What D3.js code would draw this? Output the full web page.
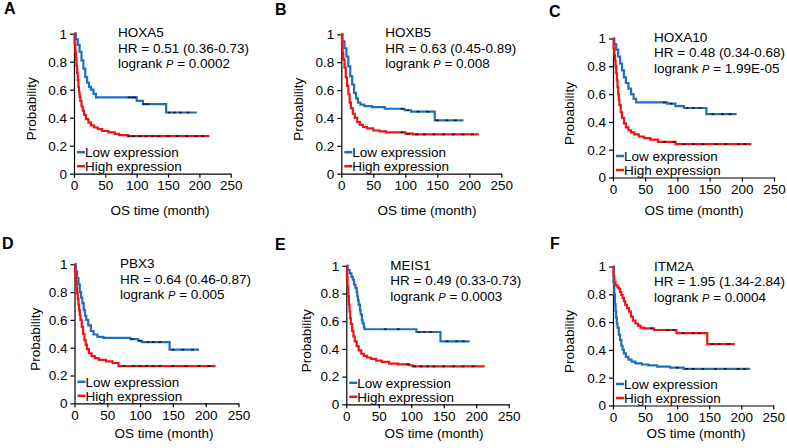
<!DOCTYPE html>
<html>
<head>
<meta charset="utf-8">
<script src="https://cdn.jsdelivr.net/npm/d3@7"></script>
<style>
  body { margin: 0; background: #fff; }
  svg text { font-family: "Liberation Sans", Arial, sans-serif; fill: #000; }
</style>
</head>
<body>
<svg id="drawing_region" width="787" height="448"></svg>
<script>
// panel letters, genes and statistics
const letters = ["A", "B", "C", "D", "E", "F"];
const genes = ["HOXA5", "HOXB5", "HOXA10", "PBX3", "MEIS1", "ITM2A"];
const hrLabels = ["HR = 0.51 (0.36-0.73)", "HR = 0.63 (0.45-0.89)", "HR = 0.48 (0.34-0.68)",
                  "HR = 0.64 (0.46-0.87)", "HR = 0.49 (0.33-0.73)", "HR = 1.95 (1.34-2.84)"];
const pValues = ["0.0002", "0.008", "1.99E-05", "0.005", "0.0003", "0.0004"];

const xTicks = [0, 50, 100, 150, 200, 250];
const yTicks = [0, 0.2, 0.4, 0.6, 0.8, 1];

// survival curves [month, probability]
const lowA = [[0,1],[3,0.96],[6,0.92],[9,0.87],[12,0.81],[15,0.75],[18,0.69],[21,0.65],[24,0.62],[27,0.60],[31,0.57],[35,0.545],[100,0.52],[110,0.497],[147,0.437],[196,0.437]];
const highA = [[0,1],[1,0.93],[2,0.87],[3,0.82],[4,0.77],[5,0.72],[6,0.67],[7,0.62],[8,0.58],[9,0.55],[10,0.52],[12,0.48],[14,0.45],[16,0.42],[19,0.39],[23,0.365],[27,0.345],[32,0.33],[38,0.318],[45,0.305],[55,0.295],[65,0.285],[72,0.275],[86,0.268],[216,0.268]];
const lowB = [[0,1],[2,0.95],[5,0.90],[8,0.84],[11,0.77],[14,0.70],[17,0.64],[20,0.58],[23,0.54],[26,0.51],[30,0.495],[36,0.485],[48,0.477],[68,0.466],[99,0.455],[109,0.445],[146,0.383],[191,0.383]];
const highB = [[0,1],[1,0.93],[2,0.87],[3,0.82],[5,0.76],[7,0.69],[9,0.63],[11,0.57],[13,0.51],[15,0.47],[18,0.43],[21,0.40],[25,0.37],[29,0.35],[34,0.335],[40,0.325],[50,0.31],[60,0.303],[70,0.297],[100,0.287],[112,0.282],[215,0.282]];
const lowC = [[0,1],[2,0.96],[5,0.92],[8,0.87],[11,0.82],[14,0.77],[17,0.72],[20,0.68],[24,0.64],[28,0.60],[32,0.565],[36,0.54],[84,0.531],[97,0.514],[110,0.50],[145,0.456],[192,0.456]];
const highC = [[0,1],[1,0.93],[2,0.88],[3,0.84],[4,0.80],[5,0.75],[6,0.70],[7,0.65],[8,0.60],[9,0.56],[10,0.52],[12,0.47],[14,0.43],[17,0.39],[20,0.36],[24,0.34],[28,0.325],[33,0.31],[40,0.295],[48,0.283],[58,0.272],[70,0.256],[97,0.24],[215,0.24]];
const lowD = [[0,1],[2,0.95],[4,0.90],[6,0.855],[8,0.80],[10,0.76],[12,0.72],[14,0.67],[16,0.63],[18,0.60],[21,0.56],[25,0.52],[29,0.495],[35,0.478],[44,0.47],[85,0.462],[97,0.45],[103,0.44],[145,0.386],[190,0.386]];
const highD = [[0,1],[1,0.93],[2,0.88],[3,0.83],[4,0.79],[5,0.75],[6,0.71],[7,0.67],[8,0.635],[9,0.60],[11,0.55],[13,0.50],[15,0.455],[17,0.42],[19,0.39],[22,0.36],[26,0.34],[31,0.325],[37,0.313],[48,0.302],[58,0.29],[67,0.268],[215,0.268]];
const lowE = [[0,1],[2,0.97],[5,0.945],[8,0.92],[10,0.90],[12,0.865],[14,0.84],[16,0.81],[17,0.78],[18,0.75],[19,0.72],[21,0.68],[22,0.65],[24,0.61],[25,0.585],[27,0.555],[28,0.542],[108,0.522],[145,0.455],[190,0.455]];
const highE = [[0,1],[1,0.92],[2,0.85],[3,0.78],[4,0.72],[5,0.67],[6,0.62],[7,0.58],[9,0.53],[11,0.49],[13,0.455],[16,0.42],[19,0.39],[23,0.365],[27,0.35],[32,0.338],[38,0.328],[46,0.315],[55,0.307],[66,0.294],[80,0.288],[97,0.282],[102,0.274],[213,0.274]];
const lowF = [[0,1],[1,0.88],[2,0.80],[3,0.73],[4,0.68],[5,0.63],[6,0.59],[7,0.56],[9,0.51],[11,0.47],[13,0.43],[15,0.40],[17,0.375],[20,0.35],[24,0.33],[29,0.315],[35,0.303],[45,0.295],[55,0.289],[69,0.279],[89,0.272],[110,0.264],[214,0.264]];
const highF = [[0,1],[1,0.93],[2,0.89],[4,0.865],[7,0.85],[9,0.84],[11,0.815],[13,0.795],[15,0.775],[17,0.75],[19,0.725],[22,0.70],[25,0.675],[28,0.64],[31,0.61],[35,0.59],[39,0.575],[43,0.56],[48,0.555],[64,0.543],[99,0.52],[147,0.442],[190,0.442]];

// censored times (small dark marks on the curves)
const censorLow = [[88,93,97,112,118,152,160,170,182],[95,104,120,135,150,165,178],[80,90,115,125,135,155,170,182],
                   [88,100,112,120,130,150,165,180],[60,80,112,120,130,155,170,180],[100,115,125,140,160,175,195,205]];
const censorHigh = [[88,95,105,115,125,135,150,165,180,195,205],[95,105,118,130,145,160,175,190,205],[80,95,110,125,140,160,175,195,205],
                    [75,90,100,110,120,130,150,170,190,205],[95,105,115,125,135,150,165,180,195],[60,85,95,110,125,135,155,165,180]];

const lowCurves = [lowA, lowB, lowC, lowD, lowE, lowF];
const highCurves = [highA, highB, highC, highD, highE, highF];

const blue = "#1f6fc0", red = "#f01414";

// panel placement on the page
const layout = [
  {x0: 74,    x1: 230.7, yTop: 33.7,  yBot: 173.7, lx: 4,   ly: 14,  tx: 118,   ty: 37.3,  titleX: 160, titleY: 215, labX: 36},
  {x0: 341.3, x1: 501.3, yTop: 34.3,  yBot: 173.7, lx: 275, ly: 15,  tx: 385.3, ty: 37.3,  titleX: 427, titleY: 215, labX: 303},
  {x0: 613,   x1: 774,   yTop: 38.5,  yBot: 177.5, lx: 549, ly: 17,  tx: 654,   ty: 41.7,  titleX: 694, titleY: 215, labX: 573.5},
  {x0: 74.5,  x1: 238.5, yTop: 264.3, yBot: 403.3, lx: 2,   ly: 249, tx: 120,   ty: 268.3, titleX: 164, titleY: 438, labX: 40},
  {x0: 346.3, x1: 508.7, yTop: 265.8, yBot: 404.3, lx: 275, ly: 250, tx: 390.3, ty: 269.7, titleX: 434, titleY: 438, labX: 311},
  {x0: 613,   x1: 773.3, yTop: 266.5, yBot: 405.5, lx: 550, ly: 249, tx: 654,   ty: 270.7, titleX: 696, titleY: 438, labX: 574}
];

const svg = d3.select("#drawing_region");

function stepValue(curve, t) {
  let p = curve[0][1];
  curve.forEach(d => { if (d[0] <= t) p = d[1]; });
  return p;
}

letters.forEach((letter, i) => {
  const L = layout[i];
  const x = d3.scaleLinear().domain([0, 250]).range([L.x0, L.x1]);
  const y = d3.scaleLinear().domain([0, 1]).range([L.yBot, L.yTop]);
  const g = svg.append("g");

  g.append("text").attr("x", L.lx).attr("y", L.ly)
    .attr("font-size", 16).attr("font-weight", "bold").text(letter);

  const yAxis = g.append("g").attr("transform", `translate(${L.x0},0)`)
    .call(d3.axisLeft(y).tickValues(yTicks).tickFormat(d => String(d)).tickSize(4).tickSizeOuter(0).tickPadding(3));
  const xAxis = g.append("g").attr("transform", `translate(0,${L.yBot})`)
    .call(d3.axisBottom(x).tickValues(xTicks).tickFormat(d => String(d)).tickSize(4).tickSizeOuter(0).tickPadding(3));
  [yAxis, xAxis].forEach(a => {
    a.attr("font-family", null);
    a.selectAll("text").attr("font-size", 13.5).style("fill", "#000");
    a.selectAll("line,path").attr("stroke", "#000").attr("stroke-width", 1.2);
  });

  g.append("text").attr("x", L.titleX).attr("y", L.titleY).attr("text-anchor", "middle")
    .attr("font-size", 13.5).text("OS time (month)");
  g.append("text").attr("transform", `translate(${L.labX},${L.yTop + 75}) rotate(-90)`)
    .attr("text-anchor", "middle").attr("font-size", 13.5).text("Probability");

  const line = d3.line().x(d => x(d[0])).y(d => y(d[1])).curve(d3.curveStepAfter);
  const series = [
    {curve: lowCurves[i], color: blue, censor: censorLow[i]},
    {curve: highCurves[i], color: red, censor: censorHigh[i]}
  ];
  series.forEach(s => {
    g.append("path").datum(s.curve).attr("d", line)
      .attr("fill", "none").attr("stroke", s.color).attr("stroke-width", 2.2);
    g.selectAll(null).data(s.censor).join("line")
      .attr("x1", t => x(t) - 1.5).attr("x2", t => x(t) + 1.5)
      .attr("y1", t => y(stepValue(s.curve, t)))
      .attr("y2", t => y(stepValue(s.curve, t)))
      .attr("stroke", "#1a1a1a").attr("stroke-width", 1.6);
  });

  // statistics text
  const info = g.append("text").attr("font-size", 13.5);
  info.append("tspan").attr("x", L.tx).attr("y", L.ty).text(genes[i]);
  info.append("tspan").attr("x", L.tx).attr("y", L.ty + 15.5).text(hrLabels[i]);
  const p = info.append("tspan").attr("x", L.tx).attr("y", L.ty + 31);
  p.append("tspan").text("logrank ");
  p.append("tspan").attr("font-style", "italic").attr("font-size", 11).text("P");
  p.append("tspan").text(" = " + pValues[i]);

  // legend
  const legend = [{label: "Low expression", color: blue, dy: -21.5}, {label: "High expression", color: red, dy: -7.5}];
  legend.forEach(d => {
    g.append("line").attr("x1", L.x0 + 3).attr("x2", L.x0 + 11)
      .attr("y1", L.yBot + d.dy).attr("y2", L.yBot + d.dy)
      .attr("stroke", d.color).attr("stroke-width", 2.5);
    g.append("text").attr("x", L.x0 + 11).attr("y", L.yBot + d.dy + 4.7)
      .attr("font-size", 13.5).text(d.label);
  });
});
</script>
</body>
</html>
